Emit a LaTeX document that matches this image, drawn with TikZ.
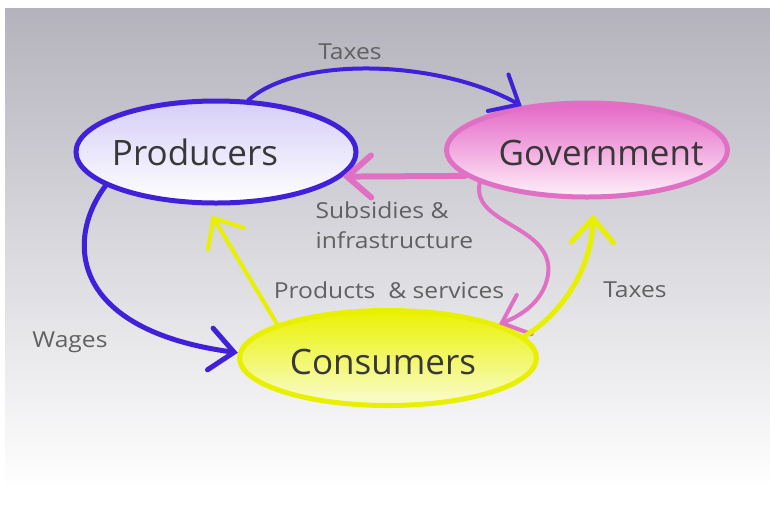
\documentclass[tikz,border=0pt]{standalone}
\usepackage{fontspec}
\setmainfont{Open Sans}
\newfontfamily\lblfont[FakeStretch=1.12]{Open Sans}
\usetikzlibrary{shapes.geometric,arrows.meta}
\definecolor{bluel}{HTML}{4020D8}
\definecolor{prodtop}{HTML}{D6CEF8}
\definecolor{pinkl}{HTML}{E070C4}
\definecolor{govtop}{HTML}{E466C6}
\definecolor{govbot}{HTML}{FFF0FA}
\definecolor{yell}{HTML}{E8F000}
\definecolor{constop}{HTML}{EAF200}
\definecolor{consbot}{HTML}{FAFCD2}
\definecolor{bgtop}{HTML}{B4B3BD}
\definecolor{bgmid}{HTML}{D8D8DE}
\begin{document}
\begin{tikzpicture}[x=1pt,y=-1pt,
  bignode/.style={ellipse,inner sep=0pt,line width=5pt},
  bigtext/.style={font=\fontsize{35}{40}\selectfont,text=black!78},
  lbl/.style={font=\lblfont\fontsize{22}{30}\selectfont,text=black!62},
  arr/.style={line width=4pt,line cap=round,line join=round,-{Straight Barb[length=24pt,width=42pt,line cap=round]}}]
\useasboundingbox (0,0) rectangle (770,523);
\fill[white] (0,0) rectangle (770,523);
\shade[top color=bgtop,middle color=bgmid,bottom color=white] (5,8) rectangle (770,490);
% nodes
\node[bignode,draw=bluel,top color=prodtop,bottom color=white,minimum width=280pt,minimum height=102pt] (prod) at (216,152) {};
\node[bignode,draw=pinkl,top color=govtop,bottom color=govbot,minimum width=281pt,minimum height=94pt] (gov) at (587,150) {};
\node[bignode,draw=yell,top color=constop,bottom color=consbot,minimum width=297pt,minimum height=95pt] (cons) at (388,358) {};
% connectors
\draw[arr,draw=bluel] (prod.58) .. controls (300,55) and (440,60) .. (gov.146);
\draw[arr,draw=bluel,line width=5pt] (prod.197) .. controls (65,240) and (70,330) .. (cons.178);
\draw[arr,draw=pinkl,line width=6pt] (gov.192) -- (prod.-11);
\draw[arr,draw=pinkl] (gov.197) .. controls (470,225) and (555,225) .. (548,275) .. controls (543,305) and (515,318) .. (cons.17);
\draw[arr,draw=yell,line width=5pt] (cons.9) .. controls (560,315) and (592,270) .. ([shift={(6,15)}]gov.south);
\draw[arr,draw=yell] (cons.163) -- ([shift={(-4,10)}]prod.south);
% texts
\node[bigtext] (prodt) at (195,152) {Producers};
\node[bigtext] (govt) at (601,153) {Government};
\node[bigtext] (const) at (383,362) {Consumers};
\node[lbl] (tx1) at (350,52) {Taxes};
\node[lbl,align=left,anchor=west] (sub) at (312,225) {Subsidies \&\\infrastructure};
\node[lbl] (prs) at (389,290) {Products\ \ \& services};
\node[lbl] (tx2) at (635,290) {Taxes};
\node[lbl] (wg) at (70,342) {Wages};
\end{tikzpicture}
\end{document}
